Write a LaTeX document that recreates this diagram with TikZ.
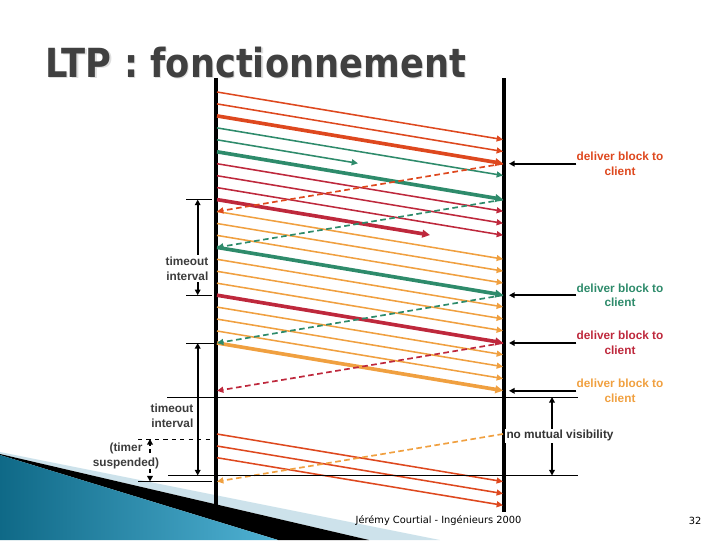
\documentclass[tikz,border=0pt]{standalone}
\usepackage{fontspec}
\setmainfont{Liberation Sans}
\newfontfamily\titlefont{DejaVu Sans}
\usetikzlibrary{arrows.meta}
\definecolor{ltpred}{RGB}{222,72,30}
\definecolor{ltpgreen}{RGB}{46,139,107}
\definecolor{ltpcrimson}{RGB}{190,40,60}
\definecolor{ltporange}{RGB}{240,160,64}
\definecolor{notegray}{RGB}{60,60,60}
\definecolor{titlegray}{RGB}{64,64,64}
\definecolor{bandlight}{RGB}{205,226,235}
\definecolor{tealdark}{RGB}{15,105,135}
\definecolor{teallight}{RGB}{80,178,212}
\tikzset{
  lifeline/.style={line width=2.6pt, draw=black},
  seg/.style={line width=1.1pt, -{Triangle[length=4.5pt,width=4.2pt]}},
  segthick/.style={line width=2.6pt, -{Triangle[length=5.5pt,width=5.5pt]}},
  report/.style={line width=1.2pt, dash pattern=on 4pt off 2.5pt, -{Triangle[length=4.5pt,width=4.2pt]}},
  tickline/.style={line width=0.7pt, draw=black},
  span/.style={line width=1.4pt, {Triangle[length=4pt,width=4pt]}-{Triangle[length=4pt,width=4pt]}},
  pointer/.style={line width=1.4pt, -{Triangle[length=4pt,width=4pt]}},
  deliverlabel/.style={font=\fontsize{8.4}{10.4}\selectfont\bfseries, align=center, inner sep=0pt},
  notelabel/.style={font=\fontsize{8.4}{10.4}\selectfont\bfseries, text=notegray, fill=white, inner sep=1pt},
  titletext/.style={anchor=base west, font=\titlefont\bfseries\fontsize{28.5}{32}\selectfont, inner sep=0pt},
  footer/.style={font=\titlefont\fontsize{7}{8}\selectfont},
}

\begin{document}
\begin{tikzpicture}[x=0.025cm,y=-0.025cm]
\useasboundingbox (0,0) rectangle (720,540);
% slide decoration
\fill[bandlight] (0,452) -- (440,540) -- (369,540) -- (0,454) -- cycle;
\fill[black] (0,454) -- (369,540) -- (278,540) -- (0,455) -- cycle;
\shade[left color=tealdark, right color=teallight] (0,455) -- (278,540) -- (0,540) -- cycle;
% title
\node[titletext, text=black!13] at (46.2,78.2) {\scalebox{0.88}[1]{LTP : fonctionnement}};
\node[titletext, text=titlegray] (title) at (45,77) {\scalebox{0.88}[1]{LTP : fonctionnement}};
% lifelines
\draw[lifeline] (216,78) -- (216,512);
\draw[lifeline] (504,78) -- (504,512);
\coordinate (rtip) at (509,0);
% block 1
\draw[seg, ltpred] (217,92.0) -- ++(286,47.6);
\draw[seg, ltpred] (217,103.9) -- ++(286,47.6);
\draw[segthick, ltpred] (217,115.9) -- ++(286,47.6);
% block 2
\draw[seg, ltpgreen] (217,127.9) -- ++(286,47.6);
\draw[seg, ltpgreen] (217,139.8) -- (358,163.3);
\draw[segthick, ltpgreen] (217,151.8) -- ++(286,47.6);
% block 3
\draw[seg, ltpcrimson] (217,163.7) -- ++(286,47.6);
\draw[seg, ltpcrimson] (217,175.7) -- ++(286,47.6);
\draw[seg, ltpcrimson] (217,187.6) -- ++(286,47.6);
\draw[segthick, ltpcrimson] (217,199.6) -- (430,235.0);
% block 4 and retransmissions
\draw[seg, ltporange] (217,211.5) -- ++(286,47.6);
\draw[seg, ltporange] (217,223.5) -- ++(286,47.6);
\draw[seg, ltporange] (217,235.4) -- ++(286,47.6);
\draw[segthick, ltpgreen] (217,247.4) -- ++(286,47.6);
\draw[seg, ltporange] (217,259.3) -- ++(286,47.6);
\draw[seg, ltporange] (217,271.3) -- ++(286,47.6);
\draw[seg, ltporange] (217,283.2) -- ++(286,47.6);
\draw[segthick, ltpcrimson] (217,295.2) -- ++(286,47.6);
\draw[seg, ltporange] (217,307.1) -- ++(286,47.6);
\draw[seg, ltporange] (217,319.1) -- ++(286,47.6);
\draw[seg, ltporange] (217,331.0) -- ++(286,47.6);
\draw[segthick, ltporange] (217,343.0) -- ++(286,47.6);
% reports
\draw[report, ltpred] (503,163.7) -- (217,211.5);
\draw[report, ltpgreen] (503,199.6) -- (217,247.4);
\draw[report, ltpgreen] (503,295.2) -- (217,343.0);
\draw[report, ltpcrimson] (503,343.0) -- (217,390.8);
% block 5
\draw[seg, ltpred] (217,434.0) -- ++(286,47.6);
\draw[seg, ltpred] (217,446.0) -- ++(286,47.6);
\draw[seg, ltpred] (217,457.7) -- ++(286,47.6);
\draw[report, ltporange] (503,434.0) -- (217,481.5);
% deliver labels
\node[deliverlabel, text=ltpred] (deliverA) at (620,163.7) {deliver block to\\client};
\node[deliverlabel, text=ltpgreen] (deliverB) at (620,295.2) {deliver block to\\client};
\node[deliverlabel, text=ltpcrimson] (deliverC) at (620,343.0) {deliver block to\\client};
\node[deliverlabel, text=ltporange] (deliverD) at (620,390.8) {deliver block to\\client};
\draw[pointer] (deliverA.west) -- (deliverA.west -| rtip);
\draw[pointer] (deliverB.west) -- (deliverB.west -| rtip);
\draw[pointer] (deliverC.west) -- (deliverC.west -| rtip);
\draw[pointer] (deliverD.west) -- (deliverD.west -| rtip);
% timers
\draw[tickline] (186,199.6) -- (212,199.6);
\draw[tickline] (186,295.2) -- (212,295.2);
\draw[span] (197.7,199.6) -- (197.7,295.2);
\node[notelabel, align=right] (timeoutA) at (187,268.5) {timeout\\interval};
\draw[tickline] (186,343.0) -- (214,343.0);
\draw[tickline] (167,397.0) -- (578,397.0);
\draw[tickline] (168,475.5) -- (578,475.5);
\draw[span] (197.7,343.0) -- (197.7,475.5);
\node[notelabel, align=right] (timeoutB) at (172,415.5) {timeout\\interval};
\draw[tickline, dashed] (138,439.0) -- (212,439.0);
\draw[tickline] (138,481.5) -- (212,481.5);
\node[notelabel, fill=none, align=center] (timer) at (126,456) {(timer\\suspended)};
\draw[pointer, dash pattern=on 3pt off 2pt] (150,453) -- (150,439.0);
\draw[pointer, dash pattern=on 3pt off 2pt] (150,469) -- (150,481.5);
\draw[span] (552,397.0) -- (552,475.5);
\node[notelabel, text=black!80] (visibility) at (560,435.7) {no mutual visibility};
% footer
\node[footer] (author) at (438.5,521) {Jérémy Courtial - Ingénieurs 2000};
\node[footer] (pageno) at (695,521) {32};
\end{tikzpicture}
\end{document}
